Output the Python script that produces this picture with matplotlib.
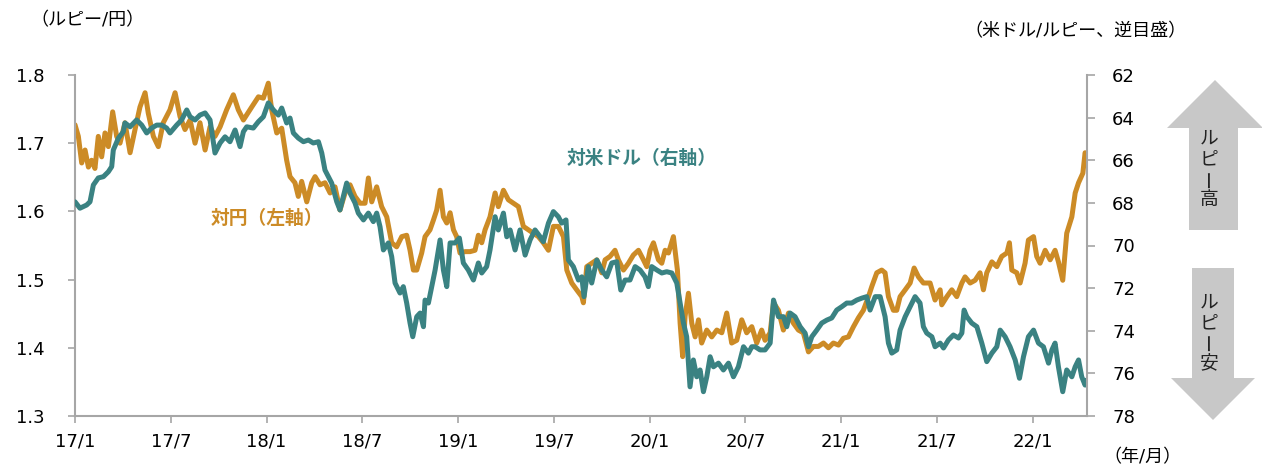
import matplotlib
matplotlib.use("Agg")
import matplotlib.pyplot as plt
from matplotlib.patches import Polygon

plt.rcParams['font.family'] = ['DejaVu Sans', 'Noto Sans CJK JP']

# x: months since 2017/1
jpy_x = [0.00, 0.21, 0.42, 0.63, 0.84, 1.04, 1.25, 1.46, 1.67, 1.88, 2.09, 2.36, 2.61, 2.82, 3.13, 3.45, 3.76,
         4.07, 4.39, 4.59, 4.91, 5.22, 5.53, 5.95, 6.27, 6.58, 6.89, 7.21, 7.52, 7.83, 8.15, 8.46, 8.77, 9.09,
         9.50, 9.92, 10.23, 10.55, 11.07, 11.49, 11.80, 12.11, 12.32, 12.64, 12.95, 13.26, 13.47, 13.78, 13.99,
         14.20, 14.52, 14.83, 15.04, 15.35, 15.66, 15.98, 16.29, 16.60, 16.92, 17.23, 17.54, 17.86, 18.17, 18.38,
         18.59, 18.90, 19.21, 19.53, 19.84, 20.15, 20.47, 20.78, 20.99, 21.20, 21.41, 21.72, 21.93, 22.24, 22.45,
         22.66, 22.87, 23.08, 23.29, 23.50, 23.71, 23.91, 24.12, 24.44, 24.75, 25.06, 25.27, 25.48, 25.69, 26.00,
         26.32, 26.52, 26.84, 27.15, 27.46, 27.78, 28.09, 28.40, 28.72, 29.03, 29.34, 29.66, 29.97, 30.28, 30.60,
         30.81, 31.12, 31.43, 31.75, 31.85, 32.06, 32.37, 32.69, 33.00, 33.21, 33.52, 33.83, 34.04, 34.36, 34.67,
         34.98, 35.30, 35.61, 35.82, 36.03, 36.24, 36.55, 36.76, 36.97, 37.18, 37.49, 37.74, 37.91, 38.07, 38.22,
         38.43, 38.64, 38.85, 39.06, 39.26, 39.58, 39.89, 40.21, 40.52, 40.83, 41.14, 41.46, 41.77, 42.08, 42.40,
         42.71, 43.02, 43.23, 43.55, 43.76, 44.07, 44.38, 44.70, 45.01, 45.32, 45.63, 45.95, 46.26, 46.57, 46.89,
         47.20, 47.51, 47.83, 48.14, 48.45, 48.77, 49.08, 49.39, 49.71, 49.92, 50.23, 50.54, 50.75, 50.96, 51.27,
         51.48, 51.69, 52.01, 52.32, 52.57, 52.84, 53.15, 53.57, 53.88, 54.20, 54.30, 54.62, 54.93, 55.24, 55.56,
         55.76, 56.08, 56.39, 56.70, 56.91, 57.12, 57.44, 57.75, 58.06, 58.38, 58.54, 58.69, 59.00, 59.21, 59.52,
         59.73, 60.05, 60.25, 60.46, 60.78, 61.09, 61.40, 61.61, 61.88, 62.13, 62.45, 62.66, 62.87, 63.14, 63.28,
         63.39]
jpy_y = [1.727, 1.710, 1.671, 1.690, 1.665, 1.675, 1.663, 1.710, 1.680, 1.715, 1.695, 1.746, 1.710, 1.700, 1.730,
         1.686, 1.720, 1.753, 1.774, 1.744, 1.710, 1.695, 1.730, 1.749, 1.774, 1.739, 1.720, 1.734, 1.700, 1.730,
         1.690, 1.724, 1.710, 1.724, 1.749, 1.771, 1.749, 1.734, 1.753, 1.768, 1.766, 1.788, 1.749, 1.715, 1.722,
         1.675, 1.651, 1.642, 1.622, 1.644, 1.614, 1.642, 1.651, 1.639, 1.642, 1.627, 1.636, 1.602, 1.627, 1.639,
         1.622, 1.612, 1.612, 1.649, 1.614, 1.636, 1.607, 1.592, 1.554, 1.548, 1.563, 1.565, 1.543, 1.514, 1.514,
         1.539, 1.563, 1.573, 1.587, 1.602, 1.631, 1.592, 1.583, 1.598, 1.573, 1.563, 1.539, 1.541, 1.541, 1.543,
         1.565, 1.554, 1.573, 1.592, 1.627, 1.607, 1.631, 1.617, 1.612, 1.607, 1.578, 1.573, 1.568, 1.563, 1.554,
         1.543, 1.578, 1.578, 1.563, 1.514, 1.495, 1.485, 1.475, 1.466, 1.519, 1.524, 1.529, 1.510, 1.529, 1.534,
         1.543, 1.529, 1.514, 1.524, 1.536, 1.543, 1.529, 1.519, 1.543, 1.554, 1.529, 1.524, 1.543, 1.539, 1.563,
         1.514, 1.436, 1.387, 1.446, 1.480, 1.436, 1.416, 1.441, 1.407, 1.426, 1.416, 1.426, 1.422, 1.451, 1.407,
         1.411, 1.441, 1.422, 1.431, 1.407, 1.426, 1.411, 1.422, 1.466, 1.455, 1.426, 1.451, 1.436, 1.426, 1.422,
         1.394, 1.402, 1.402, 1.407, 1.400, 1.407, 1.404, 1.414, 1.416, 1.431, 1.444, 1.455, 1.475, 1.490, 1.510,
         1.514, 1.510, 1.475, 1.455, 1.455, 1.475, 1.485, 1.495, 1.517, 1.504, 1.495, 1.495, 1.470, 1.485, 1.463,
         1.475, 1.485, 1.475, 1.495, 1.504, 1.495, 1.499, 1.510, 1.485, 1.510, 1.526, 1.519, 1.534, 1.539, 1.554,
         1.514, 1.510, 1.495, 1.524, 1.558, 1.563, 1.534, 1.524, 1.543, 1.529, 1.543, 1.526, 1.499, 1.568, 1.592,
         1.627, 1.642, 1.656, 1.686, 1.680]

usd_x = [0.00, 0.31, 0.73, 0.94, 1.15, 1.46, 1.78, 2.09, 2.30, 2.40, 2.72, 3.03, 3.13, 3.45, 3.86, 4.18, 4.49,
         4.80, 5.12, 5.43, 5.74, 5.95, 6.37, 6.68, 7.00, 7.21, 7.52, 7.83, 8.15, 8.46, 8.77, 9.09, 9.40, 9.71,
         10.03, 10.34, 10.55, 10.76, 11.17, 11.49, 11.80, 12.11, 12.43, 12.74, 12.95, 13.26, 13.47, 13.68, 13.99,
         14.31, 14.62, 14.93, 15.25, 15.46, 15.66, 15.87, 16.08, 16.40, 16.60, 16.81, 17.02, 17.23, 17.54, 17.75,
         18.07, 18.38, 18.69, 18.90, 19.11, 19.32, 19.63, 19.84, 20.05, 20.36, 20.57, 20.78, 20.99, 21.16, 21.41,
         21.62, 21.83, 21.93, 22.14, 22.35, 22.56, 22.87, 23.08, 23.29, 23.50, 23.81, 24.08, 24.33, 24.64, 24.96,
         25.27, 25.48, 25.79, 26.00, 26.32, 26.52, 26.84, 27.05, 27.26, 27.57, 27.88, 28.20, 28.51, 28.82, 29.14,
         29.34, 29.66, 29.97, 30.28, 30.49, 30.76, 30.91, 31.22, 31.54, 31.75, 31.89, 32.16, 32.37, 32.69, 33.00,
         33.31, 33.63, 33.94, 34.19, 34.46, 34.77, 35.09, 35.40, 35.71, 35.92, 36.13, 36.45, 36.76, 37.07, 37.39,
         37.70, 37.91, 38.12, 38.32, 38.53, 38.74, 38.95, 39.16, 39.37, 39.58, 39.79, 40.00, 40.31, 40.62, 40.94,
         41.25, 41.56, 41.88, 42.19, 42.40, 42.61, 42.92, 43.23, 43.55, 43.76, 44.07, 44.38, 44.59, 44.80, 45.11,
         45.43, 45.74, 45.95, 46.16, 46.47, 46.78, 47.10, 47.41, 47.72, 48.04, 48.35, 48.66, 48.98, 49.29, 49.60,
         49.81, 50.13, 50.44, 50.75, 50.96, 51.17, 51.48, 51.69, 52.01, 52.32, 52.63, 52.94, 53.15, 53.36, 53.68,
         53.88, 54.20, 54.41, 54.72, 55.03, 55.35, 55.56, 55.70, 55.87, 56.18, 56.50, 56.81, 57.12, 57.44, 57.75,
         57.96, 58.27, 58.58, 58.90, 59.17, 59.42, 59.73, 60.05, 60.36, 60.67, 60.99, 61.20, 61.40, 61.61, 61.88,
         62.13, 62.45, 62.66, 62.87, 63.07, 63.28, 63.39]
usd_y = [67.95, 68.25, 68.10, 67.95, 67.16, 66.83, 66.77, 66.54, 66.30, 65.52, 64.96, 64.66, 64.25, 64.43, 64.11,
         64.35, 64.72, 64.49, 64.35, 64.35, 64.49, 64.72, 64.35, 64.11, 63.64, 63.96, 64.11, 63.88, 63.78, 64.11,
         65.66, 65.19, 64.90, 65.13, 64.58, 65.36, 64.66, 64.43, 64.49, 64.19, 63.96, 63.31, 63.64, 63.88, 63.55,
         64.25, 64.02, 64.72, 64.96, 65.13, 65.05, 65.19, 65.13, 65.66, 66.46, 66.77, 67.07, 67.95, 68.33, 67.70,
         67.07, 67.54, 68.00, 68.48, 68.80, 68.48, 68.88, 68.48, 69.12, 70.21, 69.88, 70.52, 71.76, 72.23, 71.93,
         72.70, 73.64, 74.28, 73.34, 73.17, 73.81, 72.56, 72.70, 71.93, 71.15, 69.74, 71.15, 71.93, 69.88, 69.88,
         69.65, 70.82, 71.15, 71.62, 70.82, 71.29, 70.99, 70.21, 68.65, 69.27, 68.48, 69.59, 69.27, 70.21, 69.27,
         70.45, 69.74, 69.27, 69.59, 69.82, 68.95, 68.41, 68.65, 68.95, 68.80, 70.68, 70.99, 71.62, 71.47, 72.40,
         70.99, 71.76, 70.68, 71.15, 71.47, 70.82, 70.76, 72.09, 71.62, 71.62, 70.99, 71.15, 71.47, 71.93, 70.99,
         71.15, 71.29, 71.23, 71.29, 71.76, 72.70, 73.64, 74.28, 76.63, 75.37, 76.16, 75.84, 76.86, 76.16, 75.22,
         75.69, 75.52, 75.84, 75.52, 76.16, 75.69, 74.75, 75.05, 74.75, 74.75, 74.90, 74.90, 74.58, 72.56, 73.34,
         73.34, 73.81, 73.17, 73.34, 73.81, 74.11, 74.75, 74.28, 73.97, 73.64, 73.50, 73.40, 73.03, 72.87, 72.70,
         72.70, 72.56, 72.47, 72.40, 73.03, 72.40, 72.40, 73.34, 74.58, 75.05, 74.90, 73.97, 73.34, 72.87, 72.40,
         72.70, 73.81, 74.11, 74.28, 74.75, 74.58, 74.81, 74.43, 74.20, 74.34, 74.11, 73.03, 73.34, 73.64, 73.81,
         74.58, 75.45, 75.05, 74.75, 73.97, 74.28, 74.75, 75.37, 76.23, 75.22, 74.28, 73.97, 74.58, 74.75, 75.52,
         74.90, 74.58, 75.69, 76.86, 75.84, 76.16, 75.69, 75.37, 76.16, 76.55, 76.31]

x_ticks = [0, 6, 12, 18, 24, 30, 36, 42, 48, 54, 60]
x_labels = ['17/1', '17/7', '18/1', '18/7', '19/1', '19/7', '20/1', '20/7', '21/1', '21/7', '22/1']
left_ticks = [1.3, 1.4, 1.5, 1.6, 1.7, 1.8]
right_ticks = [62, 64, 66, 68, 70, 72, 74, 76, 78]

GOLD = '#CC8B26'
TEAL = '#3A8282'
SPINE = '#A6A6A6'
W, H = 1262, 468

fig = plt.figure(figsize=(W / 100, H / 100), dpi=100)
ax = fig.add_axes([75 / W, 1 - 416 / H, (1087 - 75) / W, (416 - 75) / H])
ax2 = ax.twinx()

ax.plot(jpy_x, jpy_y, color=GOLD, lw=3.6, solid_joinstyle='round', solid_capstyle='round')
ax2.plot(usd_x, usd_y, color=TEAL, lw=3.6, solid_joinstyle='round', solid_capstyle='round')

ax.set_xlim(0, 63.4)
ax.set_ylim(1.3, 1.8)
ax2.set_ylim(78, 62)
ax.set_xticks(x_ticks)
ax.set_xticklabels(x_labels)
ax.set_yticks(left_ticks)
ax.set_yticklabels([f'{v:.1f}' for v in left_ticks])
ax2.set_yticks(right_ticks)
ax2.set_yticklabels([str(v) for v in right_ticks])

for a in (ax, ax2):
    a.spines['top'].set_visible(False)
    for s in ('left', 'right', 'bottom'):
        a.spines[s].set_color(SPINE)
        a.spines[s].set_linewidth(1.5)
ax.spines['right'].set_visible(False)
ax2.spines['left'].set_visible(False)
ax2.spines['bottom'].set_visible(False)

ax.tick_params(axis='x', length=5, width=1.2, color=SPINE, pad=7, labelsize=13)
ax.tick_params(axis='y', length=5, width=1.2, color=SPINE, pad=17, labelsize=13)
ax2.tick_params(axis='y', length=6, width=1.2, color=SPINE, pad=12, labelsize=13)

ax.text(35.5, 1.677, '対米ドル（右軸）', color=TEAL, fontsize=13.5, fontweight='bold',
        ha='center', va='center', family=['Noto Sans CJK JP'])
ax.text(12.0, 1.59, '対円（左軸）', color=GOLD, fontsize=13.5, fontweight='bold',
        ha='center', va='center', family=['Noto Sans CJK JP'])

fig.text(30 / W, 1 - 20 / H, '（ルピー/円）', fontsize=13, ha='left', va='center')
fig.text(1187 / W, 1 - 31 / H, '（米ドル/ルピー、逆目盛）', fontsize=13, ha='right', va='center')
fig.text(1143 / W, 1 - 457 / H, '（年/月）', fontsize=13, ha='center', va='center')

def P(x, y):
    return (x / W, 1 - y / H)

up = [P(1215, 80), P(1263, 128), P(1238, 128), P(1238, 230), P(1189, 230), P(1189, 128), P(1167, 128)]
down = [P(1192, 268), P(1234, 268), P(1234, 378), P(1255, 378), P(1213, 420), P(1171, 378), P(1192, 378)]
for pts in (up, down):
    fig.add_artist(Polygon(pts, closed=True, transform=fig.transFigure, facecolor='#C8C8C8',
                           edgecolor='none'))

for chars, ys in ((['ル', 'ピ', 'ー', '高'], [138, 159, 179, 200]),
                  (['ル', 'ピ', 'ー', '安'], [302, 323, 342, 363])):
    for c, yy in zip(chars, ys):
        rot = 90 if c == 'ー' else 0
        fig.text(1209 / W, 1 - yy / H, c, fontsize=13.5, ha='center', va='center', rotation=rot,
                 family=['Noto Sans CJK JP'], color='#222222')

fig.savefig('out.png', dpi=100)
